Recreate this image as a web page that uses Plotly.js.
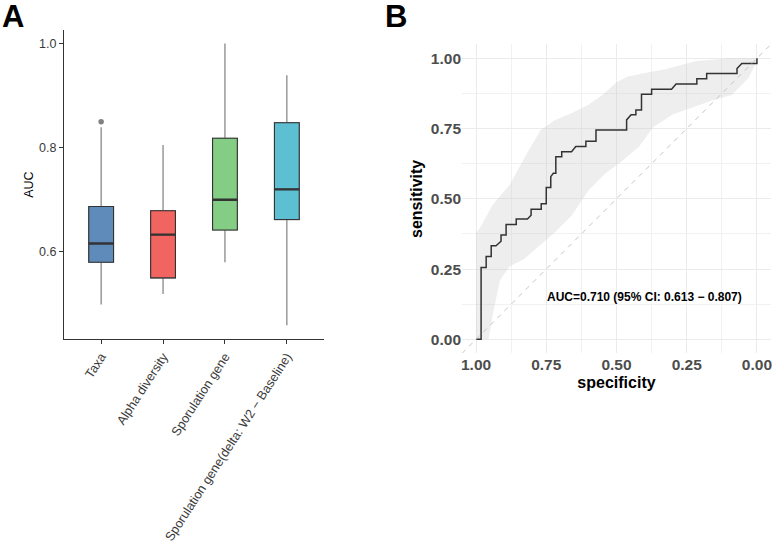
<!DOCTYPE html>
<html>
<head>
<meta charset="utf-8">
<script src="https://cdn.plot.ly/plotly-3.0.1.min.js"></script>
<style>html,body{margin:0;padding:0;background:#fff}#chart{width:772px;height:546px}</style>
</head>
<body>
<div id="chart"></div>
<script>
// ---------- Panel A: AUC boxplots ----------
var categories = ["Taxa", "Alpha diversity", "Sporulation gene", "Sporulation gene(delta: W2 \u2212 Baseline)"];
var boxColors = ["#5f8bba", "#f2645f", "#84cd84", "#5dbfd2"];
var lowerWhisker = [0.499, 0.519, 0.580, 0.459];
var q1Values     = [0.580, 0.550, 0.642, 0.662];
var medianValues = [0.616, 0.633, 0.700, 0.720];
var q3Values     = [0.687, 0.679, 0.818, 0.848];
var upperWhisker = [0.839, 0.805, 1.000, 0.939];
var outlierCats  = ["Taxa"];
var outlierAUC   = [0.850];
var aucTicks     = [0.6, 0.8, 1.0];

// ---------- Panel B: ROC curve ----------
var rocSpec = [1.000, 0.982, 0.982, 0.964, 0.964, 0.946, 0.946, 0.929, 0.911, 0.911, 0.893, 0.893, 0.857, 0.857, 0.817, 0.804, 0.804, 0.768, 0.768, 0.750, 0.750, 0.734, 0.734, 0.725, 0.716, 0.716, 0.695, 0.695, 0.660, 0.645, 0.609, 0.609, 0.573, 0.573, 0.464, 0.464, 0.448, 0.431, 0.431, 0.411, 0.411, 0.375, 0.375, 0.304, 0.288, 0.214, 0.214, 0.179, 0.179, 0.071, 0.071, 0.054, 0.000, 0.000];
var rocSens = [0.000, 0.000, 0.256, 0.256, 0.295, 0.295, 0.333, 0.333, 0.349, 0.371, 0.371, 0.409, 0.409, 0.428, 0.428, 0.442, 0.463, 0.463, 0.483, 0.483, 0.540, 0.540, 0.579, 0.591, 0.591, 0.650, 0.650, 0.668, 0.668, 0.686, 0.686, 0.705, 0.705, 0.745, 0.745, 0.781, 0.799, 0.799, 0.816, 0.816, 0.872, 0.872, 0.890, 0.890, 0.909, 0.909, 0.927, 0.927, 0.946, 0.946, 0.964, 0.982, 0.982, 1.000];
var ciUpperSpec = [1.00, 0.99, 0.94, 0.88, 0.82, 0.77, 0.72, 0.66, 0.60, 0.55, 0.50, 0.46, 0.39, 0.33, 0.22, 0.10, 0.00];
var ciUpperSens = [0.38, 0.39, 0.48, 0.55, 0.66, 0.745, 0.78, 0.805, 0.835, 0.87, 0.915, 0.935, 0.95, 0.96, 0.99, 1.00, 1.00];
var ciLowerSpec = [0.00, 0.03, 0.09, 0.16, 0.23, 0.30, 0.37, 0.42, 0.48, 0.54, 0.60, 0.66, 0.72, 0.78, 0.83, 0.88, 0.915, 0.94, 0.955, 1.00];
var ciLowerSens = [0.99, 0.93, 0.87, 0.85, 0.825, 0.80, 0.755, 0.685, 0.635, 0.59, 0.53, 0.44, 0.38, 0.33, 0.285, 0.26, 0.21, 0.09, 0.00, 0.00];
var rocTicks = [0, 0.25, 0.5, 0.75, 1];
var aucLabel = "AUC=0.710 (95% CI: 0.613 \u2212 0.807)";

var FONT = "Liberation Sans, Arial, Helvetica, sans-serif";
var traces = [];

// whiskers (grey) for all boxes
traces.push({
  type: "box", xaxis: "x", yaxis: "y", x: categories,
  q1: q1Values, median: medianValues, q3: q3Values,
  lowerfence: lowerWhisker, upperfence: upperWhisker,
  width: 0.4, whiskerwidth: 0, boxpoints: false,
  fillcolor: "rgba(0,0,0,0)", line: {color: "#7f7f7f", width: 1.2},
  showlegend: false, hoverinfo: "skip"
});
// coloured boxes with dark outline
for (var i = 0; i < categories.length; i++) {
  traces.push({
    type: "box", xaxis: "x", yaxis: "y", x: [categories[i]],
    q1: [q1Values[i]], median: [medianValues[i]], q3: [q3Values[i]],
    lowerfence: [q1Values[i]], upperfence: [q3Values[i]],
    width: 0.4, whiskerwidth: 0, boxpoints: false,
    fillcolor: boxColors[i], line: {color: "#333333", width: 1.1},
    showlegend: false, hoverinfo: "skip"
  });
}
// thick median lines
traces.push({
  type: "box", xaxis: "x", yaxis: "y", x: categories,
  q1: medianValues, median: medianValues, q3: medianValues,
  lowerfence: medianValues, upperfence: medianValues,
  width: 0.4, whiskerwidth: 0, boxpoints: false,
  fillcolor: "rgba(0,0,0,0)", line: {color: "#333333", width: 2.4},
  showlegend: false, hoverinfo: "skip"
});
// outlier
traces.push({
  type: "scatter", mode: "markers", xaxis: "x", yaxis: "y",
  x: outlierCats, y: outlierAUC,
  marker: {color: "#808080", size: 5.5}, showlegend: false, hoverinfo: "skip"
});

// CI band
traces.push({
  type: "scatter", mode: "lines", xaxis: "x2", yaxis: "y2",
  x: ciUpperSpec.concat(ciLowerSpec), y: ciUpperSens.concat(ciLowerSens),
  fill: "toself", fillcolor: "rgba(200,200,200,0.3)", line: {width: 0},
  showlegend: false, hoverinfo: "skip"
});
// ROC curve
traces.push({
  type: "scatter", mode: "lines", xaxis: "x2", yaxis: "y2",
  x: rocSpec, y: rocSens, line: {color: "#333333", width: 1.5},
  showlegend: false, hoverinfo: "skip"
});

var layout = {
  width: 772, height: 546,
  margin: {l: 0, r: 0, t: 0, b: 0},
  paper_bgcolor: "#ffffff", plot_bgcolor: "rgba(0,0,0,0)",
  boxmode: "overlay",
  font: {family: FONT, color: "#333333"},
  xaxis: {
    domain: [64/772, 324/772], anchor: "y",
    type: "category", categoryorder: "array", categoryarray: categories,
    range: [-0.6, 3.6],
    showline: true, linecolor: "#333333", linewidth: 1,
    ticks: "outside", ticklen: 4, tickcolor: "#333333", tickwidth: 1,
    tickangle: -57, tickfont: {family: FONT, size: 12.7, color: "#3a3a3a"},
    showgrid: false, zeroline: false
  },
  yaxis: {
    domain: [1 - 339.3/546, 1 - 30/546], anchor: "x",
    range: [0.432, 1.026],
    tickvals: aucTicks, tickformat: ".1f",
    showline: true, linecolor: "#333333", linewidth: 1,
    ticks: "outside", ticklen: 4, tickcolor: "#333333", tickwidth: 1,
    tickfont: {family: FONT, size: 12.5, color: "#3a3a3a"},
    showgrid: false, zeroline: false,
    title: {text: "AUC", font: {family: FONT, size: 12.5, color: "#000000"}, standoff: 2}
  },
  xaxis2: {
    domain: [462/772, 771/772], anchor: "y2",
    range: [1.05, -0.05],
    tickvals: rocTicks, tickformat: ".2f", ticklabeloverflow: "allow",
    showline: false, ticks: "", zeroline: false,
    showgrid: true, gridcolor: "#ebebeb", gridwidth: 1,
    minor: {dtick: 0.125, tick0: 0, showgrid: true, gridcolor: "#f1f1f1", gridwidth: 1},
    tickfont: {family: FONT, size: 15.5, color: "#4d4d4d", weight: "bold"},
    title: {text: "specificity", font: {family: FONT, size: 16, color: "#000000", weight: "bold"}, standoff: 4}
  },
  yaxis2: {
    domain: [1 - 353.4/546, 1 - 44.3/546], anchor: "x2",
    range: [-0.05, 1.05],
    tickvals: rocTicks, tickformat: ".2f",
    showline: false, ticks: "", zeroline: false,
    showgrid: true, gridcolor: "#ebebeb", gridwidth: 1,
    minor: {dtick: 0.125, tick0: 0, showgrid: true, gridcolor: "#f1f1f1", gridwidth: 1},
    tickfont: {family: FONT, size: 15.5, color: "#4d4d4d", weight: "bold"},
    title: {text: "sensitivity", font: {family: FONT, size: 16, color: "#000000", weight: "bold"}, standoff: 4}
  },
  shapes: [{
    type: "line", xref: "x2", yref: "y2", x0: 1.05, y0: -0.05, x1: -0.05, y1: 1.05,
    line: {color: "#c4c4c4", width: 1, dash: "5px,5px"}, layer: "above"
  }],
  annotations: [
    {xref: "paper", yref: "paper", x: 13/772, y: 1 - 16/546, text: "A", showarrow: false,
     font: {family: FONT, size: 31, color: "#000000", weight: "bold"}, xanchor: "center", yanchor: "middle"},
    {xref: "paper", yref: "paper", x: 396/772, y: 1 - 16/546, text: "B", showarrow: false,
     font: {family: FONT, size: 31, color: "#000000", weight: "bold"}, xanchor: "center", yanchor: "middle"},
    {xref: "x2", yref: "y2", x: 0.40, y: 0.15, text: aucLabel, showarrow: false,
     font: {family: FONT, size: 12, color: "#000000", weight: "bold"}, xanchor: "center", yanchor: "middle"}
  ]
};

Plotly.newPlot("chart", traces, layout, {displayModeBar: false, staticPlot: true});
</script>
</body>
</html>
